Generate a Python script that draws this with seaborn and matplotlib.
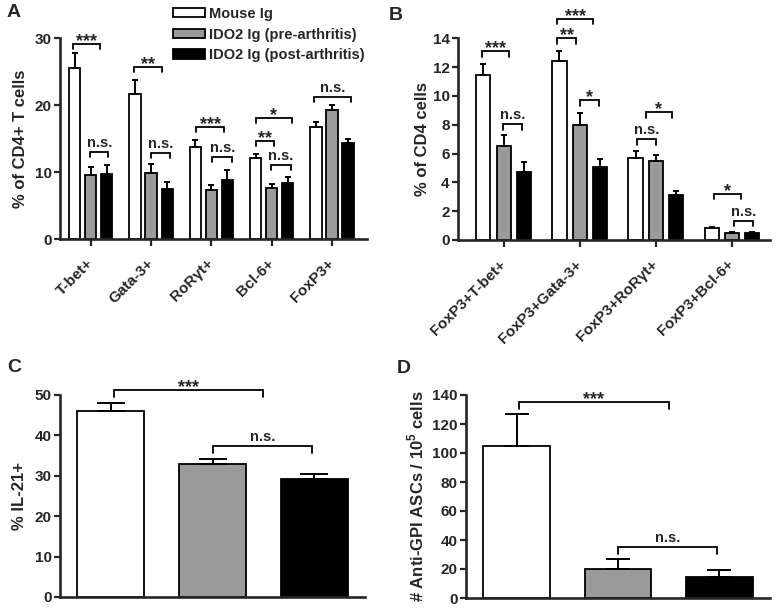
import matplotlib
matplotlib.use('Agg')
import matplotlib.pyplot as plt
import numpy as np
import pandas as pd
import seaborn as sns

# groups shared by all panels
groups = ["Mouse Ig", "IDO2 Ig (pre-arthritis)", "IDO2 Ig (post-arthritis)"]
group_colors = ["white", "#9a9a9a", "black"]

# panel A: % of CD4+ T cells
a_cats = ["T-bet+", "Gata-3+", "RoR\u03b3t+", "Bcl-6+", "FoxP3+"]
a_mouse = [25.5, 21.7, 13.7, 12.1, 16.7]
a_mouse_err = [2.3, 2.1, 1.1, 0.6, 0.8]
a_pre = [9.6, 9.85, 7.3, 7.6, 19.35]
a_pre_err = [1.15, 1.35, 0.8, 0.6, 0.65]
a_post = [9.75, 7.45, 8.75, 8.35, 14.35]
a_post_err = [1.35, 1.0, 1.6, 0.9, 0.65]
# (category, from bar, to bar, height, label)
a_brackets = [(0, -0.1, 1.6, 29.2, "***"), (0, 0.95, 2.1, 13.0, "n.s."),
              (1, -0.05, 1.65, 25.7, "**"), (1, 0.98, 2.2, 12.9, "n.s."),
              (2, 0.05, 1.8, 16.8, "***"), (2, 1.05, 2.3, 12.3, "n.s."),
              (3, 0.0, 2.25, 18.1, "*"), (3, 0.0, 1.15, 14.6, "**"),
              (3, 0.93, 2.2, 11.1, "n.s."), (4, -0.15, 2.2, 21.3, "n.s.")]

# panel B: % of CD4 cells
b_cats = ["FoxP3+T-bet+", "FoxP3+Gata-3+", "FoxP3+RoR\u03b3t+", "FoxP3+Bcl-6+"]
b_mouse = [11.45, 12.45, 5.68, 0.85]
b_mouse_err = [0.75, 0.7, 0.48, 0.05]
b_pre = [6.5, 7.98, 5.45, 0.48]
b_pre_err = [0.8, 0.82, 0.48, 0.05]
b_post = [4.7, 5.05, 3.15, 0.48]
b_post_err = [0.7, 0.58, 0.25, 0.05]
b_brackets = [(0, -0.05, 1.25, 13.1, "***"), (0, 0.96, 1.9, 8.05, "n.s."),
              (1, -0.1, 1.65, 15.36, "***"), (1, -0.1, 0.82, 14.0, "**"),
              (1, 1.0, 1.93, 9.7, "*"), (2, 0.5, 1.8, 8.85, "*"),
              (2, 0.07, 1.0, 7.0, "n.s."), (3, 0.1, 1.45, 3.22, "*"),
              (3, 1.12, 2.05, 1.33, "n.s.")]

# panel C: % IL-21+
c_vals = [46.1, 32.8, 29.1]
c_errs = [1.9, 1.3, 1.3]
c_brackets = [(0, 0.03, 1.5, 51.3, "***"), (0, 1.0, 1.98, 37.5, "n.s.")]

# panel D: anti-GPI ASCs
d_vals = [104.8, 20.0, 14.5]
d_errs = [21.8, 6.7, 5.1]
d_brackets = [(0, 0.02, 1.5, 135.4, "***"), (0, 1.0, 1.98, 35.2, "n.s.")]

sns.set_style("ticks")
plt.rcParams['font.family'] = ['Liberation Sans', 'DejaVu Sans']
plt.rcParams['font.weight'] = 'bold'
plt.rcParams['axes.labelweight'] = 'bold'
plt.rcParams['mathtext.fontset'] = 'custom'
plt.rcParams['mathtext.rm'] = 'Liberation Sans:bold'
plt.rcParams['mathtext.bf'] = 'Liberation Sans:bold'

W, H = 779, 611


def grouped_table(cats, series, errs):
    rows = []
    for g, vals, es in zip(groups, series, errs):
        for c, v, e in zip(cats, vals, es):
            rows.append({"cat": c, "group": g, "value": v, "err": e})
    return pd.DataFrame(rows)


def draw_panel(ax, df, x, width, gap, capsize):
    sns.barplot(data=df, x=x, y="value", hue="group", hue_order=groups,
                order=list(dict.fromkeys(df[x])), palette=group_colors,
                saturation=1, width=width, gap=gap, errorbar=None,
                edgecolor="black", linewidth=1.3, legend=False, ax=ax)
    bars = list(ax.containers)
    for cont, g in zip(bars, groups):
        sub = df[df["group"] == g]
        for patch, (_, row) in zip(cont, sub.iterrows()):
            cx = patch.get_x() + patch.get_width() / 2
            ax.errorbar(cx, patch.get_height(), yerr=[[0], [row["err"]]],
                        fmt="none", ecolor="black", elinewidth=1.4,
                        capsize=capsize, capthick=1.4, zorder=1)
    return bars


def add_brackets(ax, bars, brackets, drop_frac, star_size=13, ns_size=10.5):
    top = ax.get_ylim()[1]
    drop = drop_frac * top
    for cat, b0, b1, y, label in brackets:
        p0, p1 = bars[0][cat], bars[1][cat]
        c0 = p0.get_x() + p0.get_width() / 2
        c1 = p1.get_x() + p1.get_width() / 2
        x0 = c0 + b0 * (c1 - c0)
        x1 = c0 + b1 * (c1 - c0)
        ax.plot([x0, x0, x1, x1], [y - drop, y, y, y - drop], color="black",
                lw=1.3, clip_on=False, solid_joinstyle="miter")
        star = label.startswith("*")
        ax.annotate(label, xy=((x0 + x1) / 2, y),
                    xytext=(0, -1.5 if star else 3.5), textcoords="offset points",
                    ha="center", va="baseline", fontweight="bold",
                    fontsize=star_size if star else ns_size,
                    annotation_clip=False)


def style_axes(ax, xlim, ylim, yticks, ylabel, label_x):
    ax.set_xlim(*xlim)
    ax.set_ylim(*ylim)
    ax.set_yticks(yticks)
    sns.despine(ax=ax)
    for s in ["left", "bottom"]:
        ax.spines[s].set_linewidth(1.9)
    ax.tick_params(axis="y", direction="out", length=4, width=1.6,
                   labelsize=11, pad=2)
    ax.set_ylabel(ylabel, fontsize=12)
    ax.yaxis.set_label_coords(label_x, 0.5)
    ax.set_xlabel("")
    for t in ax.get_yticklabels():
        t.set_fontweight("bold")


def axes_rect(left, right, top, bottom):
    return [left / W, 1 - bottom / H, (right - left) / W, (bottom - top) / H]


fig = plt.figure(figsize=(W / 100, H / 100), dpi=100)
ax_a = fig.add_axes(axes_rect(60, 367, 38.3, 239))
ax_b = fig.add_axes(axes_rect(458, 770, 38.3, 240))
ax_c = fig.add_axes(axes_rect(60, 365, 395, 597))
ax_d = fig.add_axes(axes_rect(466, 770, 395, 598))

# A
df_a = grouped_table(a_cats, [a_mouse, a_pre, a_post], [a_mouse_err, a_pre_err, a_post_err])
bars_a = draw_panel(ax_a, df_a, "cat", 0.8, 0.3, 2.2)
style_axes(ax_a, (-0.51, 4.58), (0, 30), [0, 10, 20, 30], "% of CD4+ T cells", -0.105)
add_brackets(ax_a, bars_a, a_brackets, 0.025)

# B
df_b = grouped_table(b_cats, [b_mouse, b_pre, b_post], [b_mouse_err, b_pre_err, b_post_err])
bars_b = draw_panel(ax_b, df_b, "cat", 0.8, 0.3, 2.4)
style_axes(ax_b, (-0.6, 3.5), (0, 14), list(range(0, 15, 2)), "% of CD4 cells", -0.09)
add_brackets(ax_b, bars_b, b_brackets, 0.028)

for ax, cats in [(ax_a, a_cats), (ax_b, b_cats)]:
    ax.set_xticks(range(len(cats)))
    ax.set_xticklabels(cats, rotation=45, ha="right", va="center",
                       rotation_mode="anchor", fontsize=11, fontweight="bold")
    ax.tick_params(axis="x", direction="out", length=5, width=1.6, pad=11)

# C and D: one bar per group
for ax, vals, errs, brackets, ylim, yticks, ylabel, lx, cap in [
        (ax_c, c_vals, c_errs, c_brackets, (0, 50), list(range(0, 51, 10)),
         "% IL-21+", -0.108, 10),
        (ax_d, d_vals, d_errs, d_brackets, (0, 140), list(range(0, 141, 20)),
         "# Anti-GPI ASCs / 10$^{5}$ cells", -0.13, 8.6)]:
    df = pd.DataFrame({"cat": groups, "group": groups, "value": vals, "err": errs})
    bars = draw_panel(ax, df, "cat", 0.66, 0, cap)
    style_axes(ax, (-0.5, 2.5), ylim, yticks, ylabel, lx)
    ax.set_xticks([])
    # one bar per container: index bars by group for brackets
    flat = [[cont[0]] for cont in bars]
    add_brackets(ax, flat, brackets, 0.035)

ax_a.legend(handles=bars_a, labels=groups, loc="upper left",
            bbox_to_anchor=(173 / W, 1 - 7 / H), bbox_transform=fig.transFigure,
            frameon=False, fontsize=10.5, handlelength=2.2, handleheight=0.6,
            handletextpad=0.25, labelspacing=0.45, borderpad=0, borderaxespad=0)

for letter, lx, ly in [("A", 7, 4), ("B", 389, 7), ("C", 7, 359), ("D", 397, 360)]:
    fig.text(lx / W, 1 - ly / H, letter, fontsize=14, fontweight="bold",
             ha="left", va="top")

fig.savefig("out.png", dpi=100)
